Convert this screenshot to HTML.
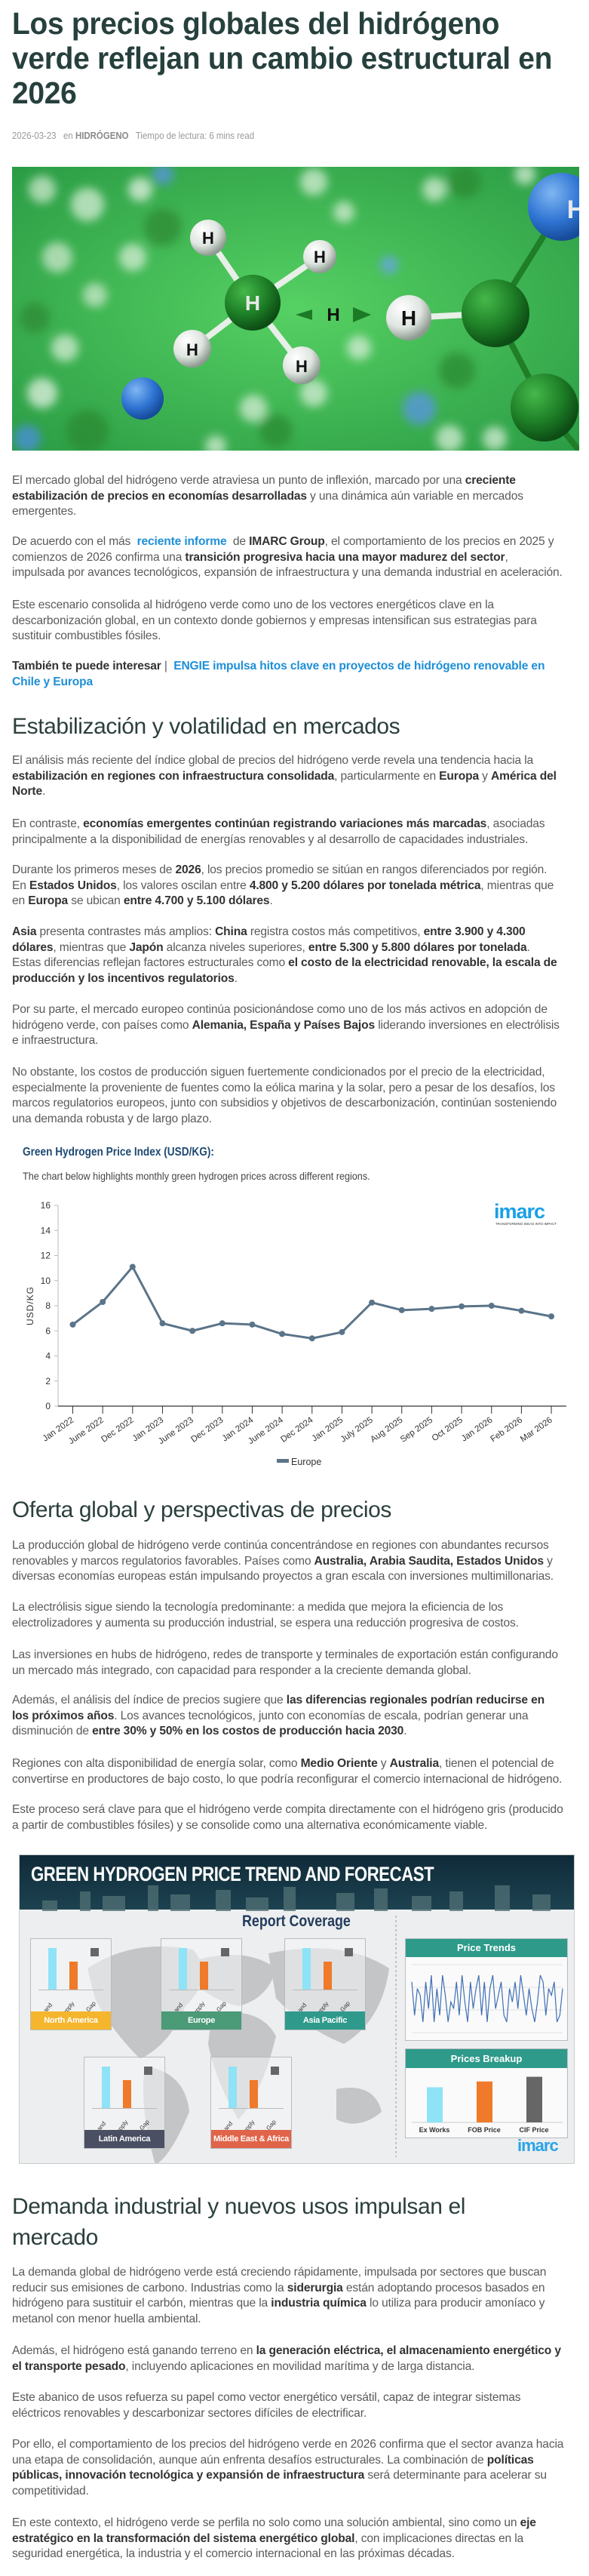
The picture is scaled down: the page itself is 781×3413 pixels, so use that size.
<!DOCTYPE html>
<html lang="es"><head><meta charset="utf-8">
<style>
*{margin:0;padding:0;box-sizing:border-box}
html,body{width:781px;height:3413px;background:#fff;overflow:hidden}
body{position:relative;font-family:"Liberation Sans",sans-serif;color:#5a5a5a}
.abs{position:absolute}
.title{left:16px;top:8px;font-size:41px;line-height:46px;font-weight:bold;color:#26403d;white-space:nowrap;transform:scaleX(.95);transform-origin:0 0;letter-spacing:-.3px}
.meta{left:16px;top:172px;font-size:13px;color:#9a9a9a;white-space:nowrap;transform:scaleX(.88);transform-origin:0 0}
.meta b{color:#8a8a8a}
.p{left:16px;font-size:15.6px;line-height:20.6px;white-space:nowrap;color:#5a5a5a;letter-spacing:-.15px}
.p b{color:#333}
.p a{color:#1e8fd8;font-weight:bold;text-decoration:none}
.h2{left:16px;font-size:30px;line-height:41px;color:#2b3f3d;white-space:nowrap;letter-spacing:-.4px}
.ib{position:absolute;background:#f4f5f5;border:1px solid #b9bcbf}
.ilab{position:absolute;left:0;right:0;bottom:0;height:24px;color:#fff;font-weight:bold;font-size:11px;line-height:24px;text-align:center;white-space:nowrap;letter-spacing:-.3px}
</style></head>
<body>
<div class="abs title">Los precios globales del hidrógeno<br>verde reflejan un cambio estructural en<br>2026</div>
<div class="abs meta">2026-03-23 &nbsp; en <b>HIDRÓGENO</b> &nbsp; Tiempo de lectura: 6 mins read</div>

<svg class="abs" style="left:16px;top:221px" width="752" height="376">
<defs>
<radialGradient id="bg" cx="50%" cy="50%" r="70%"><stop offset="0" stop-color="#56d163"/><stop offset="1" stop-color="#2b9c45"/></radialGradient>
<radialGradient id="wh" cx="35%" cy="30%" r="70%"><stop offset="0" stop-color="#fff"/><stop offset=".6" stop-color="#dfe5e0"/><stop offset="1" stop-color="#8d9a90"/></radialGradient>
<radialGradient id="gr" cx="35%" cy="30%" r="70%"><stop offset="0" stop-color="#45b84a"/><stop offset=".6" stop-color="#1d7e26"/><stop offset="1" stop-color="#0d4d15"/></radialGradient>
<radialGradient id="bl" cx="35%" cy="30%" r="70%"><stop offset="0" stop-color="#7fb6f2"/><stop offset=".6" stop-color="#2f74d3"/><stop offset="1" stop-color="#174b9a"/></radialGradient>
<filter id="bz"><feGaussianBlur stdDeviation="6"/></filter>
</defs>
<rect width="752" height="376" fill="url(#bg)"/>
<g filter="url(#bz)" opacity=".75">
<circle cx="40" cy="30" r="18" fill="#cfe9cf"/><circle cx="100" cy="50" r="22" fill="#d8eed8"/><circle cx="170" cy="30" r="16" fill="#e5f3e5"/><circle cx="200" cy="80" r="25" fill="#2f8a35"/><circle cx="160" cy="120" r="18" fill="#d8eed8"/><circle cx="60" cy="120" r="20" fill="#cde8cd"/><circle cx="110" cy="170" r="16" fill="#cde8cd"/><circle cx="30" cy="200" r="20" fill="#2f8a35"/><circle cx="70" cy="240" r="18" fill="#d8eed8"/><circle cx="40" cy="300" r="20" fill="#e5f3e5"/><circle cx="100" cy="350" r="28" fill="#2b8a32"/><circle cx="20" cy="360" r="18" fill="#4c8fe0"/><circle cx="200" cy="10" r="14" fill="#5a94e6"/><circle cx="400" cy="20" r="18" fill="#d8eed8"/><circle cx="440" cy="60" r="14" fill="#d8eed8"/><circle cx="600" cy="20" r="22" fill="#2b8a32"/><circle cx="560" cy="30" r="16" fill="#d8eed8"/><circle cx="680" cy="10" r="14" fill="#d8eed8"/><circle cx="500" cy="130" r="12" fill="#6aa4ea"/><circle cx="320" cy="320" r="18" fill="#d8eed8"/><circle cx="350" cy="350" r="22" fill="#2b8a32"/><circle cx="400" cy="300" r="18" fill="#d8eed8"/><circle cx="540" cy="320" r="22" fill="#5a94e6"/><circle cx="590" cy="270" r="24" fill="#2b8a32"/><circle cx="580" cy="360" r="18" fill="#d8eed8"/><circle cx="640" cy="360" r="16" fill="#d8eed8"/><circle cx="460" cy="240" r="16" fill="#d8eed8"/><circle cx="270" cy="370" r="14" fill="#d8eed8"/>
</g>
<g stroke="#e8efe8" stroke-width="8"><line x1="319" y1="180" x2="260" y2="94"/><line x1="319" y1="180" x2="408" y2="119"/><line x1="319" y1="180" x2="239" y2="241"/><line x1="319" y1="180" x2="384" y2="263"/><line x1="526" y1="200" x2="641" y2="194"/></g>
<g stroke="#1f7e27" stroke-width="8"><line x1="641" y1="194" x2="729" y2="53"/><line x1="641" y1="194" x2="706" y2="319"/><line x1="706" y1="319" x2="752" y2="376"/></g>
<circle cx="729" cy="53" r="45" fill="url(#bl)"/><circle cx="173" cy="307" r="28" fill="url(#bl)"/>
<circle cx="319" cy="180" r="37" fill="url(#gr)"/><circle cx="641" cy="194" r="45" fill="url(#gr)"/><circle cx="706" cy="319" r="45" fill="url(#gr)"/>
<circle cx="260" cy="94" r="24" fill="url(#wh)"/><circle cx="408" cy="119" r="22" fill="url(#wh)"/><circle cx="239" cy="241" r="25" fill="url(#wh)"/><circle cx="384" cy="263" r="25" fill="url(#wh)"/><circle cx="526" cy="200" r="30" fill="url(#wh)"/>
<polygon points="376,196 398,189 398,203" fill="#1c7a26"/><polygon points="476,196 452,186 452,206" fill="#1c7a26"/>
<g font-family="Liberation Sans" font-weight="bold" text-anchor="middle" fill="#111"><text x="260" y="102" font-size="22">H</text><text x="408" y="127" font-size="22">H</text><text x="239" y="250" font-size="22">H</text><text x="384" y="272" font-size="22">H</text><text x="526" y="210" font-size="28">H</text><text x="426" y="204" font-size="24">H</text><text x="319" y="190" font-size="28" fill="#e8e8e8">H</text><text x="748" y="68" font-size="34" fill="#e8e8e8">H</text></g>
</svg>

<div class="abs p" style="top:627px">El mercado global del hidrógeno verde atraviesa un punto de inflexión, marcado por una <b>creciente</b><br><b>estabilización de precios en economías desarrolladas</b> y una dinámica aún variable en mercados<br>emergentes.</div>
<div class="abs p" style="top:708px">De acuerdo con el más &nbsp;<a href="#">reciente informe</a> &nbsp;de <b>IMARC Group</b>, el comportamiento de los precios en 2025 y<br>comienzos de 2026 confirma una <b>transición progresiva hacia una mayor madurez del sector</b>,<br>impulsada por avances tecnológicos, expansión de infraestructura y una demanda industrial en aceleración.</div>
<div class="abs p" style="top:792px">Este escenario consolida al hidrógeno verde como uno de los vectores energéticos clave en la<br>descarbonización global, en un contexto donde gobiernos y empresas intensifican sus estrategias para<br>sustituir combustibles fósiles.</div>
<div class="abs p" style="top:873px"><b>También te puede interesar</b> | &nbsp;<a href="#">ENGIE impulsa hitos clave en proyectos de hidrógeno renovable en<br>Chile y Europa</a></div>

<div class="abs h2" style="top:942px">Estabilización y volatilidad en mercados</div>
<div class="abs p" style="top:998px">El análisis más reciente del índice global de precios del hidrógeno verde revela una tendencia hacia la<br><b>estabilización en regiones con infraestructura consolidada</b>, particularmente en <b>Europa</b> y <b>América del</b><br><b>Norte</b>.</div>
<div class="abs p" style="top:1082px">En contraste, <b>economías emergentes continúan registrando variaciones más marcadas</b>, asociadas<br>principalmente a la disponibilidad de energías renovables y al desarrollo de capacidades industriales.</div>
<div class="abs p" style="top:1143px">Durante los primeros meses de <b>2026</b>, los precios promedio se sitúan en rangos diferenciados por región.<br>En <b>Estados Unidos</b>, los valores oscilan entre <b>4.800 y 5.200 dólares por tonelada métrica</b>, mientras que<br>en <b>Europa</b> se ubican <b>entre 4.700 y 5.100 dólares</b>.</div>
<div class="abs p" style="top:1225px"><b>Asia</b> presenta contrastes más amplios: <b>China</b> registra costos más competitivos, <b>entre 3.900 y 4.300</b><br><b>dólares</b>, mientras que <b>Japón</b> alcanza niveles superiores, <b>entre 5.300 y 5.800 dólares por tonelada</b>.<br>Estas diferencias reflejan factores estructurales como <b>el costo de la electricidad renovable, la escala de</b><br><b>producción y los incentivos regulatorios</b>.</div>
<div class="abs p" style="top:1328px">Por su parte, el mercado europeo continúa posicionándose como uno de los más activos en adopción de<br>hidrógeno verde, con países como <b>Alemania, España y Países Bajos</b> liderando inversiones en electrólisis<br>e infraestructura.</div>
<div class="abs p" style="top:1411px">No obstante, los costos de producción siguen fuertemente condicionados por el precio de la electricidad,<br>especialmente la proveniente de fuentes como la eólica marina y la solar, pero a pesar de los desafíos, los<br>marcos regulatorios europeos, junto con subsidios y objetivos de descarbonización, continúan sosteniendo<br>una demanda robusta y de largo plazo.</div>

<div class="abs" style="left:30px;top:1518px;font-size:15.5px;font-weight:bold;color:#1f4a72;white-space:nowrap;transform:scaleX(.88);transform-origin:0 0">Green Hydrogen Price Index (USD/KG):</div>
<div class="abs" style="left:30px;top:1550px;font-size:14px;color:#444;white-space:nowrap;transform:scaleX(.9);transform-origin:0 0">The chart below highlights monthly green hydrogen prices across different regions.</div>

<svg id="chart" class="abs" style="left:0;top:1500px" width="781" height="460"></svg>

<div class="abs h2" style="top:1980px">Oferta global y perspectivas de precios</div>
<div class="abs p" style="top:2038px">La producción global de hidrógeno verde continúa concentrándose en regiones con abundantes recursos<br>renovables y marcos regulatorios favorables. Países como <b>Australia, Arabia Saudita, Estados Unidos</b> y<br>diversas economías europeas están impulsando proyectos a gran escala con inversiones multimillonarias.</div>
<div class="abs p" style="top:2120px">La electrólisis sigue siendo la tecnología predominante: a medida que mejora la eficiencia de los<br>electrolizadores y aumenta su producción industrial, se espera una reducción progresiva de costos.</div>
<div class="abs p" style="top:2183px">Las inversiones en hubs de hidrógeno, redes de transporte y terminales de exportación están configurando<br>un mercado más integrado, con capacidad para responder a la creciente demanda global.</div>
<div class="abs p" style="top:2243px">Además, el análisis del índice de precios sugiere que <b>las diferencias regionales podrían reducirse en</b><br><b>los próximos años</b>. Los avances tecnológicos, junto con economías de escala, podrían generar una<br>disminución de <b>entre 30% y 50% en los costos de producción hacia 2030</b>.</div>
<div class="abs p" style="top:2327px">Regiones con alta disponibilidad de energía solar, como <b>Medio Oriente</b> y <b>Australia</b>, tienen el potencial de<br>convertirse en productores de bajo costo, lo que podría reconfigurar el comercio internacional de hidrógeno.</div>
<div class="abs p" style="top:2388px">Este proceso será clave para que el hidrógeno verde compita directamente con el hidrógeno gris (producido<br>a partir de combustibles fósiles) y se consolide como una alternativa económicamente viable.</div>

<div class="abs" style="left:25px;top:2457px;width:737px;height:410px;background:#eceeef;border:1px solid #c9cccd;overflow:hidden">
 <div class="abs" style="left:0;top:0;width:737px;height:72px;background:linear-gradient(#0f2a38,#1d4250)"></div>
 <svg class="abs" style="left:0;top:40px" width="737" height="34"><g fill="#4e6e73" opacity=".8"><rect x="30" y="20" width="20" height="14"/><rect x="80" y="8" width="14" height="26"/><rect x="110" y="14" width="30" height="20"/><rect x="170" y="0" width="14" height="34"/><rect x="200" y="12" width="26" height="22"/><rect x="260" y="6" width="20" height="28"/><rect x="300" y="16" width="30" height="18"/><rect x="350" y="2" width="16" height="32"/><rect x="420" y="10" width="24" height="24"/><rect x="470" y="4" width="18" height="30"/><rect x="520" y="14" width="26" height="20"/><rect x="570" y="8" width="18" height="26"/><rect x="630" y="0" width="20" height="34"/><rect x="680" y="12" width="24" height="22"/></g></svg>
 <div class="abs" style="left:15px;top:10px;color:#fff;font-weight:bold;font-size:27px;white-space:nowrap;transform:scaleX(.82);transform-origin:0 0;letter-spacing:-.5px">GREEN HYDROGEN PRICE TREND AND FORECAST</div>
 <div class="abs" style="left:295px;top:76px;color:#233b5c;font-weight:bold;font-size:21px;white-space:nowrap;transform:scaleX(.85);transform-origin:0 0">Report Coverage</div>
 <svg class="abs" style="left:0;top:80px" width="500" height="330"><g fill="#c3c5c7"><path d="M90 70 Q150 30 230 45 Q260 80 220 120 Q200 170 160 190 Q120 150 100 110Z"/><path d="M170 200 Q220 210 225 260 Q200 320 180 330 Q160 260 165 210Z"/><path d="M230 60 Q300 40 340 70 Q330 110 290 120 Q250 110 235 90Z"/><path d="M255 130 Q320 120 340 160 Q320 240 290 270 Q260 220 250 170Z"/><path d="M330 50 Q430 30 490 70 Q480 140 430 170 Q380 150 340 110Z"/><path d="M420 230 Q470 220 480 260 Q450 285 420 270Z"/></g></svg>
 <svg class="abs" style="left:498px;top:80px" width="2" height="320"><line x1="1" y1="0" x2="1" y2="320" stroke="#999" stroke-dasharray="3,3"/></svg>
 <div id="regions"></div>
 <div class="ib" style="left:511px;top:110px;width:216px;height:136px;background:#fafafa">
  <div style="height:24px;background:#2e9a8a;color:#fff;font-weight:bold;font-size:13px;text-align:center;line-height:24px">Price Trends</div>
  <svg id="trend" width="216" height="110"></svg>
 </div>
 <div class="ib" style="left:511px;top:256px;width:216px;height:119px;background:#fafafa">
  <div style="height:25px;background:#2e9a8a;color:#fff;font-weight:bold;font-size:13px;text-align:center;line-height:25px">Prices Breakup</div>
  <svg id="breakup" width="216" height="92"></svg>
 </div>
 <div class="abs" style="left:660px;top:372px;color:#2aa3e8;font-weight:bold;font-size:22px;letter-spacing:-1px">imarc</div>
</div>

<div class="abs h2" style="top:2903px">Demanda industrial y nuevos usos impulsan el<br>mercado</div>
<div class="abs p" style="top:3001px">La demanda global de hidrógeno verde está creciendo rápidamente, impulsada por sectores que buscan<br>reducir sus emisiones de carbono. Industrias como la <b>siderurgia</b> están adoptando procesos basados en<br>hidrógeno para sustituir el carbón, mientras que la <b>industria química</b> lo utiliza para producir amoníaco y<br>metanol con menor huella ambiental.</div>
<div class="abs p" style="top:3105px">Además, el hidrógeno está ganando terreno en <b>la generación eléctrica, el almacenamiento energético y</b><br><b>el transporte pesado</b>, incluyendo aplicaciones en movilidad marítima y de larga distancia.</div>
<div class="abs p" style="top:3167px">Este abanico de usos refuerza su papel como vector energético versátil, capaz de integrar sistemas<br>eléctricos renovables y descarbonizar sectores difíciles de electrificar.</div>
<div class="abs p" style="top:3229px">Por ello, el comportamiento de los precios del hidrógeno verde en 2026 confirma que el sector avanza hacia<br>una etapa de consolidación, aunque aún enfrenta desafíos estructurales. La combinación de <b>políticas</b><br><b>públicas, innovación tecnológica y expansión de infraestructura</b> será determinante para acelerar su<br>competitividad.</div>
<div class="abs p" style="top:3333px">En este contexto, el hidrógeno verde se perfila no solo como una solución ambiental, sino como un <b>eje</b><br><b>estratégico en la transformación del sistema energético global</b>, con implicaciones directas en la<br>seguridad energética, la industria y el comercio internacional en las próximas décadas.</div>

<script>
// Europe price index (USD/KG)
const categories = ["Jan 2022","June 2022","Dec 2022","Jan 2023","June 2023","Dec 2023","Jan 2024","June 2024","Dec 2024","Jan 2025","July 2025","Aug 2025","Sep 2025","Oct 2025","Jan 2026","Feb 2026","Mar 2026"];
const europeValues = [6.5,8.3,11.1,6.6,6.0,6.6,6.5,5.75,5.4,5.9,8.25,7.65,7.75,7.95,8.0,7.6,7.15];
const yTicks = [0,2,4,6,8,10,12,14,16];
const seriesName = "Europe";
// infographic
const trendValues = [7,2,6,5,1,7,3,8,1,6,2,8,5,1,4,3,7,2,8,4,1,7,3,6,8,2,7,1,6,8,3,5,7,2,1,6,4,7,3,8,5,2,6,3,1,4,8,7,2,6,5,7,1,2,6];
const breakupLabels = ["Ex Works","FOB Price","CIF Price"];
const breakupValues = [3.0,3.5,3.9];
const breakupColors = ["#8ee3f7","#ef7a2a","#666"];
const regionNames = ["North America","Europe","Asia Pacific","Latin America","Middle East & Africa"];
const regionDemand = [10,10,10,10,10];
const regionSupply = [8,8,8,8,8];
const regionColors = ["#f5b52c","#4b9a78","#2f9a8c","#4a4f63","#e0644a"];
const regionPos = [[14,110],[187,110],[351,110],[85,267],[253,267]];

const NS="http://www.w3.org/2000/svg";
function mk(p,t,a){const e=document.createElementNS(NS,t);for(const k in a)e.setAttribute(k,a[k]);p.appendChild(e);return e;}
const svg=document.getElementById('chart');
const x0=96.5, dx=39.66, yBase=363, yTop=97, vMax=16;
const xs=i=>x0+i*dx;
const ys=v=>yBase-(v/vMax)*(yBase-yTop);
const axY=mk(svg,'line',{x1:77,y1:yTop,x2:77,y2:yBase,stroke:'#bbb'});


const axX=mk(svg,'line',{x1:77,y1:yBase,x2:751,y2:yBase,stroke:'#555','stroke-width':1.5});


yTicks.forEach(t=>{
  mk(svg,'line',{x1:72,y1:ys(t),x2:77,y2:ys(t),stroke:'#bbb'});
  const tx=mk(svg,'text',{x:67,y:ys(t)+4,'text-anchor':'end','font-size':12,fill:'#333','font-family':'Liberation Sans'});
  tx.textContent=t;
  
  
});
const yl=mk(svg,'text',{x:0,y:0,transform:'translate(44,230) rotate(-90)','text-anchor':'middle','font-size':12,fill:'#333','font-family':'Liberation Sans','letter-spacing':'1'});
yl.textContent='USD/KG';


categories.forEach((c,i)=>{
  mk(svg,'line',{x1:xs(i),y1:yBase,x2:xs(i),y2:yBase+10,stroke:'#333'});
  const tx=mk(svg,'text',{x:0,y:0,transform:`translate(${xs(i)+2},${yBase+20}) rotate(-35)`,'text-anchor':'end','font-size':11.5,fill:'#333','font-family':'Liberation Sans'});
  tx.textContent=c;
  
  
});
const pl=mk(svg,'polyline',{points:europeValues.map((v,i)=>xs(i)+','+ys(v)).join(' '),fill:'none',stroke:'#5a7489','stroke-width':3,'stroke-linejoin':'round'});


europeValues.forEach((v,i)=>{
  const c=mk(svg,'circle',{cx:xs(i),cy:ys(v),r:4,fill:'#5a7489'});
  
  
});
const lg=mk(svg,'rect',{x:367,y:433,width:16,height:5,fill:'#5a7489'});


const lt=mk(svg,'text',{x:386,y:441,'font-size':12.5,fill:'#333','font-family':'Liberation Sans'});
lt.textContent=seriesName;


const lo=mk(svg,'text',{x:655,y:114,'font-size':27,fill:'#1aa0e6','font-family':'Liberation Sans','font-weight':'bold','letter-spacing':'-1'});
lo.textContent='imarc';


const lo2=mk(svg,'text',{x:657,y:123,'font-size':4.5,fill:'#333','font-family':'Liberation Sans'});
lo2.textContent='TRANSFORMING IDEAS INTO IMPACT';

// regions
const reg=document.getElementById('regions');
regionNames.forEach((n,i)=>{
  const [l,t]=regionPos[i];
  const d=document.createElement('div');
  d.className='ib';
  d.style.cssText=`left:${l}px;top:${t}px;width:108px;height:122px;background:rgba(245,246,246,.55)`;
  
  
  const h=55;
  d.innerHTML=`<div style="position:absolute;left:23px;top:${12+ (10-regionDemand[i])/10*h}px;width:11px;height:${regionDemand[i]/10*h}px;background:#8ee3f7"></div>
  <div style="position:absolute;left:51px;top:${12+h-regionSupply[i]/10*h*0.85}px;width:11px;height:${regionSupply[i]/10*h*0.85}px;background:#ef7a2a"></div>
  <div style="position:absolute;left:79px;top:12px;width:11px;height:11px;background:#666"></div>
  <div style="position:absolute;left:10px;right:10px;top:${12+h}px;height:1px;background:#bbb"></div>
  <div style="position:absolute;left:2px;top:${12+h+26}px;font-size:8px;color:#333;transform:rotate(-50deg);white-space:nowrap">Demand</div>
  <div style="position:absolute;left:36px;top:${12+h+22}px;font-size:8px;color:#333;transform:rotate(-50deg)">Supply</div>
  <div style="position:absolute;left:72px;top:${12+h+18}px;font-size:8px;color:#333;transform:rotate(-50deg)">Gap</div>
  <div class="ilab" style="background:${regionColors[i]}">${n}</div>`;
  reg.appendChild(d);
});
// trend sparkline
const tr=document.getElementById('trend');
[10,40,70,100].forEach(y=>mk(tr,'line',{x1:8,y1:y,x2:208,y2:y,stroke:'#e2e2e2'}));
const tmin=1,tmax=8;
const tpl=mk(tr,'polyline',{points:trendValues.map((v,i)=>(8+i*200/(trendValues.length-1))+','+(86-(v-tmin)/(tmax-tmin)*62)).join(' '),fill:'none',stroke:'#3f6fb5','stroke-width':1.2});


// breakup bars
const br=document.getElementById('breakup');
mk(br,'line',{x1:8,y1:72,x2:208,y2:72,stroke:'#ccc'});
breakupValues.forEach((v,i)=>{
  const h=v/4*62, x=28+i*66;
  const r=mk(br,'rect',{x:x,y:72-h,width:21,height:h,fill:breakupColors[i]});
  
  
  const t=mk(br,'text',{x:x+10,y:85,'text-anchor':'middle','font-size':9,'font-weight':'bold',fill:'#333','font-family':'Liberation Sans'});
  t.textContent=breakupLabels[i];
});
</script>
</body></html>
